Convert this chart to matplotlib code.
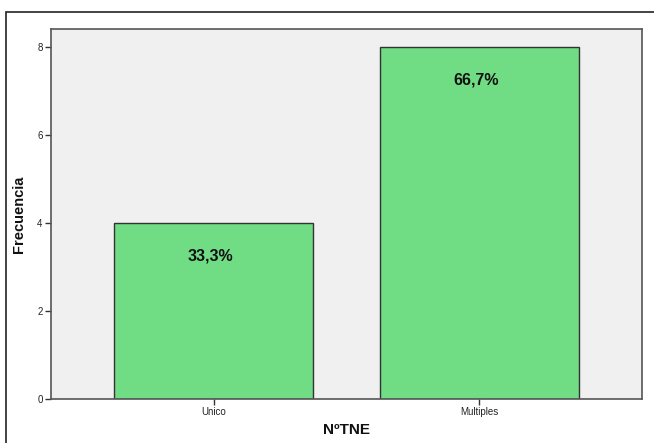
import matplotlib
matplotlib.use("Agg")
import matplotlib.pyplot as plt
from matplotlib.patches import Rectangle

categories = ["Unico", "Multiples"]
counts = [4, 8]
pct_labels = ["33,3%", "66,7%"]
yticks = [0, 2, 4, 6, 8]

W, H = 654, 443
fig = plt.figure(figsize=(W / 100, H / 100), dpi=100)
plt.rcParams['font.family'] = ['Liberation Sans', 'DejaVu Sans']

# outer frame
fig.patches.append(Rectangle((6 / W, -0.2), 1.2, (1 - 12 / H) + 0.2,
                             transform=fig.transFigure, fill=False,
                             edgecolor="#222222", linewidth=1.2))

ax = fig.add_axes([51 / W, 1 - 399 / H, (642 - 51) / W, (399 - 29) / H])
ax.set_facecolor("#f0f0f0")
x = list(range(len(categories)))
ax.bar(x, counts, width=0.75, color="#70dc84", edgecolor="#333333", linewidth=1.0, zorder=2)

ax.set_xlim(-0.612, 1.612)
ax.set_ylim(0, 8.41)
ax.set_yticks(yticks)
ax.set_yticklabels([str(v) for v in yticks])
ax.set_xticks(x)
ax.set_xticklabels(categories)
ax.tick_params(axis="both", direction="out", length=4, width=1, colors="#333333",
               labelsize=7, labelcolor="#222222", pad=2)

for s in ax.spines.values():
    s.set_color("#555555")
    s.set_linewidth(1.2)

for xi, c, lab in zip(x, counts, pct_labels):
    ax.annotate(lab, (xi, c), xytext=(-3, -33), textcoords="offset pixels",
                ha="center", va="center", fontsize=11.5, fontweight="bold", color="#111111")

ax.set_ylabel("Frecuencia", fontsize=10.5, fontweight="bold", color="#111111", labelpad=8)
ax.set_xlabel("NºTNE", fontsize=11, fontweight="bold", color="#111111", labelpad=4)

fig.savefig("out.png", dpi=100)
